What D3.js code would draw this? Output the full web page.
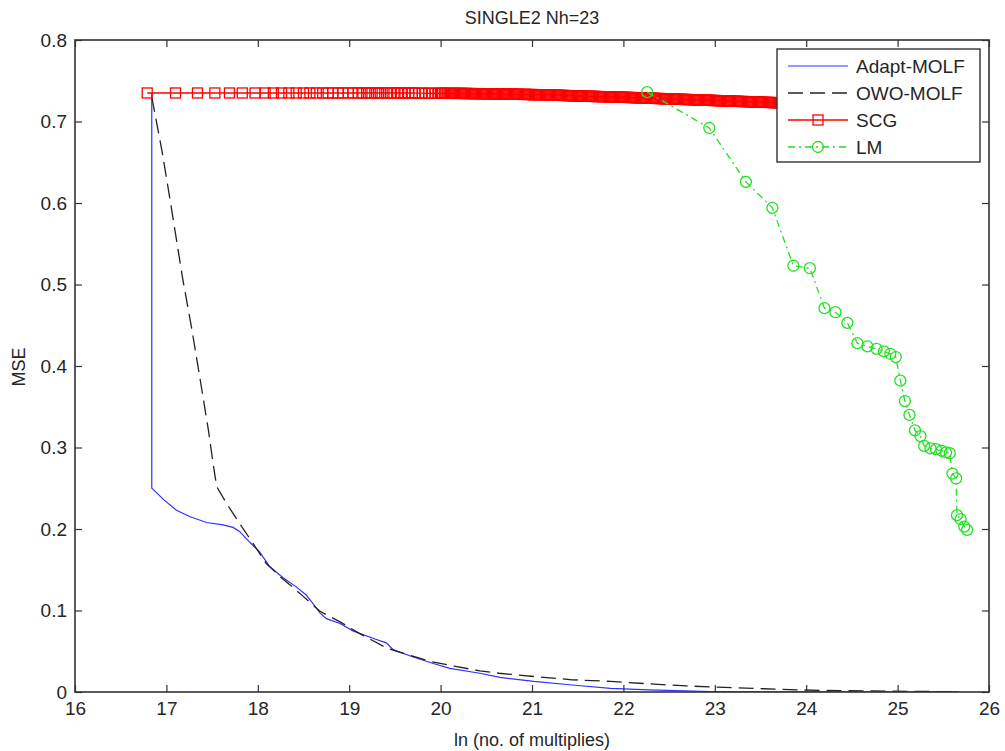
<!DOCTYPE html>
<html><head><meta charset="utf-8">
<script src="https://cdn.jsdelivr.net/npm/d3@7"></script>
<style>body{margin:0;background:#fff}svg{display:block}text{font-family:"Liberation Sans",Arial,sans-serif;fill:#262626}</style>
</head><body><svg id="c" width="1005" height="751"></svg>
<script>
const title = "SINGLE2 Nh=23";
const xLabel = "ln (no. of multiplies)";
const yLabel = "MSE";
const xTicks = [16,17,18,19,20,21,22,23,24,25,26];
const yTicks = [0,0.1,0.2,0.3,0.4,0.5,0.6,0.7,0.8];
const seriesNames = ["Adapt-MOLF","OWO-MOLF","SCG","LM"];

const adaptX = [16.84,16.84,16.86,16.97,17.11,17.26,17.44,17.62,17.73,17.80,17.91,18.02,18.13,18.28,18.42,18.53,18.60,18.68,18.75,18.90,19.04,19.26,19.41,19.48,19.70,19.92,20.10,20.43,20.65,21.02,21.44,21.86,22.28,22.95,23.50,24.50,25.67];
const adaptY = [0.735,0.250,0.248,0.236,0.223,0.215,0.208,0.205,0.202,0.197,0.184,0.172,0.154,0.140,0.129,0.119,0.109,0.097,0.090,0.084,0.075,0.066,0.060,0.052,0.043,0.035,0.029,0.023,0.018,0.013,0.0086,0.0045,0.0025,0.0006,0.0003,0.0002,0.0001];

const owoX = [16.84,16.95,17.04,17.18,17.28,17.37,17.46,17.51,17.55,17.66,17.80,17.95,18.09,18.24,18.46,18.68,18.90,19.11,19.41,19.63,19.91,20.18,20.43,20.64,21.02,21.44,21.86,22.28,22.69,23.11,23.53,23.95,24.37,25.20,25.60];
const owoY = [0.730,0.665,0.604,0.506,0.444,0.383,0.321,0.281,0.252,0.231,0.207,0.182,0.158,0.142,0.121,0.099,0.086,0.072,0.054,0.046,0.037,0.031,0.026,0.023,0.019,0.015,0.013,0.010,0.0074,0.0057,0.004,0.0025,0.0016,0.0008,0.0004];

const scgX = [16.79,17.10,17.34,17.53,17.69,17.83,17.97,18.08,18.17,18.26,18.34,18.42,18.50,18.57,18.64,18.71,18.77,18.82,18.88,18.93,18.99,19.04,19.10,19.14,19.19,19.23,19.28,19.32,19.36,19.41,19.45,19.49,19.53,19.57,19.61,19.65,19.69,19.72,19.76,19.80,19.83,19.87,19.90,19.94,19.97,
20.00,20.02,20.04,20.06,20.08,20.10,20.12,20.14,20.16,20.18,
20.20,20.22,20.24,20.26,20.28,20.30,20.32,20.34,20.36,20.38,
20.40,20.42,20.44,20.46,20.48,20.50,20.52,20.54,20.56,20.58,
20.60,20.62,20.64,20.66,20.68,20.70,20.72,20.74,20.76,20.78,
20.80,20.82,20.84,20.86,20.88,20.90,20.92,20.94,20.96,20.98,
21.00,21.02,21.04,21.06,21.08,21.10,21.12,21.14,21.16,21.18,
21.20,21.22,21.24,21.26,21.28,21.30,21.32,21.34,21.36,21.38,
21.40,21.42,21.44,21.46,21.48,21.50,21.52,21.54,21.56,21.58,
21.60,21.62,21.64,21.66,21.68,21.70,21.72,21.74,21.76,21.78,
21.80,21.82,21.84,21.86,21.88,21.90,21.92,21.94,21.96,21.98,
22.00,22.02,22.04,22.06,22.08,22.10,22.12,22.14,22.16,22.18,
22.20,22.22,22.24,22.26,22.28,22.30,22.32,22.34,22.36,22.38,
22.40,22.42,22.44,22.46,22.48,22.50,22.52,22.54,22.56,22.58,
22.60,22.62,22.64,22.66,22.68,22.70,22.72,22.74,22.76,22.78,
22.80,22.82,22.84,22.86,22.88,22.90,22.92,22.94,22.96,22.98,
23.00,23.02,23.04,23.06,23.08,23.10,23.12,23.14,23.16,23.18,
23.20,23.22,23.24,23.26,23.28,23.30,23.32,23.34,23.36,23.38,
23.40,23.42,23.44,23.46,23.48,23.50,23.52,23.54,23.56,23.58,
23.60,23.62,23.64,23.66,23.68,23.70,23.72,23.74,23.76,23.78,
23.80,23.82,23.84,23.86,23.88,23.90,23.92,23.94,23.96,23.98];
const scgY = [0.735,0.735,0.735,0.735,0.735,0.735,0.735,0.735,0.735,0.735,0.735,0.735,0.735,0.735,0.735,0.735,0.735,0.735,0.735,0.735,0.735,0.735,0.735,0.735,0.735,0.735,0.735,0.735,0.735,0.735,0.735,0.735,0.735,0.735,0.735,0.735,0.735,0.7348,0.7348,0.7348,0.7346,0.7346,0.7346,0.7346,0.7346,
0.7346,0.7346,0.7346,0.7346,0.7346,0.7345,0.7345,0.7345,0.7345,0.7345,
0.7345,0.7345,0.7344,0.7344,0.7344,0.7343,0.7343,0.7343,0.7342,0.7342,
0.7342,0.7342,0.7341,0.7341,0.7341,0.7340,0.7340,0.7340,0.7339,0.7339,
0.7339,0.7338,0.7338,0.7337,0.7337,0.7337,0.7336,0.7336,0.7335,0.7335,
0.7335,0.7334,0.7334,0.7333,0.7333,0.7333,0.7332,0.7332,0.7331,0.7331,
0.7331,0.7330,0.7330,0.7329,0.7329,0.7329,0.7328,0.7328,0.7327,0.7327,
0.7327,0.7326,0.7325,0.7324,0.7323,0.7322,0.7321,0.7320,0.7319,0.7318,
0.7318,0.7317,0.7316,0.7315,0.7314,0.7314,0.7313,0.7312,0.7311,0.7310,
0.7310,0.7309,0.7309,0.7308,0.7308,0.7307,0.7306,0.7306,0.7305,0.7305,
0.7304,0.7303,0.7303,0.7302,0.7302,0.7301,0.7300,0.7300,0.7299,0.7299,
0.7298,0.7297,0.7296,0.7295,0.7294,0.7294,0.7293,0.7292,0.7291,0.7290,
0.7290,0.7289,0.7288,0.7287,0.7286,0.7286,0.7285,0.7284,0.7283,0.7282,
0.7282,0.7281,0.7280,0.7279,0.7278,0.7278,0.7277,0.7276,0.7275,0.7274,
0.7274,0.7273,0.7272,0.7271,0.7270,0.7270,0.7269,0.7268,0.7267,0.7266,
0.7266,0.7265,0.7264,0.7263,0.7262,0.7262,0.7261,0.7260,0.7259,0.7258,
0.7258,0.7257,0.7256,0.7255,0.7254,0.7254,0.7253,0.7252,0.7251,0.7250,
0.7250,0.7249,0.7248,0.7247,0.7246,0.7246,0.7245,0.7244,0.7243,0.7242,
0.7242,0.7241,0.7240,0.7239,0.7238,0.7238,0.7237,0.7236,0.7235,0.7234,
0.7234,0.7233,0.7232,0.7231,0.7230,0.7230,0.7229,0.7228,0.7227,0.7226,
0.7226,0.7225,0.7224,0.7223,0.7222,0.7222,0.7221,0.7220,0.7219,0.7218];

const lmX = [22.26,22.94,23.34,23.63,23.86,24.04,24.20,24.32,24.45,24.56,24.67,24.77,24.85,24.92,24.98,25.03,25.08,25.13,25.19,25.25,25.29,25.36,25.42,25.48,25.53,25.57,25.60,25.64,25.65,25.69,25.73,25.76];
const lmY = [0.736,0.692,0.626,0.594,0.523,0.520,0.471,0.466,0.453,0.428,0.424,0.421,0.418,0.415,0.411,0.382,0.357,0.340,0.321,0.314,0.302,0.299,0.298,0.296,0.294,0.293,0.268,0.262,0.217,0.212,0.203,0.199];

const svg = d3.select("#c");
svg.append("rect").attr("width",1005).attr("height",751).attr("fill","#fff");
const L=75,R=989,T=40,B=692;
const x = d3.scaleLinear().domain([16,26]).range([L,R]);
const y = d3.scaleLinear().domain([0,0.8]).range([B,T]);
const axisCol="#333";

svg.append("defs").append("clipPath").attr("id","clip").append("rect")
  .attr("x",L).attr("y",T).attr("width",R-L).attr("height",B-T);

const plot = svg.append("g").attr("clip-path","url(#clip)");
const zip=(a,b)=>a.map((v,i)=>[v,b[i]]);
const line = d3.line().x(d=>x(d[0])).y(d=>y(d[1]));

const styles = [
  {data:zip(adaptX,adaptY), color:"#3030ff", dash:null, w:1.2, marker:null},
  {data:zip(owoX,owoY), color:"#222", dash:"15,7", w:1.3, marker:null},
  {data:zip(scgX,scgY), color:"#ff0000", dash:null, w:1.3, marker:"sq"},
  {data:zip(lmX,lmY), color:"#22e022", dash:"7,4,2,4", w:1.3, marker:"ci"}
];

styles.forEach(s=>{
  plot.append("path").datum(s.data).attr("d",line).attr("fill","none")
    .attr("stroke",s.color).attr("stroke-width",s.w)
    .attr("stroke-dasharray",s.dash);
  if(s.marker==="sq"){
    plot.selectAll(null).data(s.data).enter().append("rect")
      .attr("x",d=>x(d[0])-5).attr("y",d=>y(d[1])-5).attr("width",10).attr("height",10)
      .attr("fill","none").attr("stroke",s.color).attr("stroke-width",1.3);
  } else if(s.marker==="ci"){
    plot.selectAll(null).data(s.data).enter().append("circle")
      .attr("cx",d=>x(d[0])).attr("cy",d=>y(d[1])).attr("r",5.5)
      .attr("fill","none").attr("stroke",s.color).attr("stroke-width",1.3);
  }
});

// axes
const fs=19;
const gx = svg.append("g").attr("transform",`translate(0,${B})`)
  .call(d3.axisBottom(x).tickValues(xTicks).tickSize(-7).tickPadding(10).tickFormat(d3.format("d")));
const gxt = svg.append("g").attr("transform",`translate(0,${T})`)
  .call(d3.axisTop(x).tickValues(xTicks).tickSize(-7).tickFormat(""));
const gy = svg.append("g").attr("transform",`translate(${L},0)`)
  .call(d3.axisLeft(y).tickValues(yTicks).tickSize(-7).tickPadding(8).tickFormat(d=>d===0?"0":d3.format(".1f")(d)));
const gyr = svg.append("g").attr("transform",`translate(${R},0)`)
  .call(d3.axisRight(y).tickValues(yTicks).tickSize(-7).tickFormat(""));
[gx,gxt,gy,gyr].forEach(g=>{
  g.selectAll(".domain").remove();
  g.selectAll("line").attr("stroke",axisCol).attr("stroke-width",1.2);
  g.selectAll("text").attr("font-size",fs).attr("font-family",'"Liberation Sans",Arial,sans-serif').attr("fill","#262626");
});
gx.selectAll("text").attr("dy","0.71em");
svg.append("rect").attr("x",L).attr("y",T).attr("width",R-L).attr("height",B-T)
  .attr("fill","none").attr("stroke",axisCol).attr("stroke-width",1.6);

// labels
svg.append("text").attr("x",(L+R)/2).attr("y",24).attr("text-anchor","middle").attr("font-size",18).text(title);
svg.append("text").attr("x",(L+R)/2).attr("y",746).attr("text-anchor","middle").attr("font-size",18).text(xLabel);
svg.append("text").attr("transform","translate(25,367) rotate(-90)").attr("text-anchor","middle").attr("font-size",18).text(yLabel);

// legend
const lg = svg.append("g");
lg.append("rect").attr("x",777).attr("y",49).attr("width",203).attr("height",113)
  .attr("fill","#fff").attr("stroke","#333").attr("stroke-width",1.4);
const rowsY=[66,93,120,147];
styles.forEach((s,i)=>{
  const yy=rowsY[i];
  lg.append("line").attr("x1",788).attr("x2",848).attr("y1",yy).attr("y2",yy)
    .attr("stroke",s.color).attr("stroke-width",s.w).attr("stroke-dasharray",s.dash);
  if(s.marker==="sq") lg.append("rect").attr("x",813).attr("y",yy-5).attr("width",10).attr("height",10)
    .attr("fill","none").attr("stroke",s.color).attr("stroke-width",1.3);
  if(s.marker==="ci") lg.append("circle").attr("cx",818).attr("cy",yy).attr("r",5.5)
    .attr("fill","none").attr("stroke",s.color).attr("stroke-width",1.3);
  lg.append("text").attr("x",856).attr("y",yy).attr("dy","0.35em").attr("font-size",19).text(seriesNames[i]);
});
</script></body></html>
